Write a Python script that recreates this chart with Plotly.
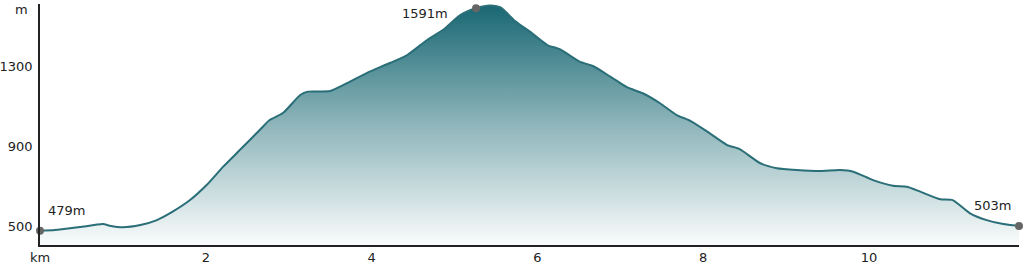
import plotly.graph_objects as go

# distance (km) and elevation (m) of the profile
km = [0.00, 0.18, 0.48, 0.76, 0.84, 1.00, 1.21, 1.41, 1.60, 1.81, 2.01, 2.21, 2.41,
      2.65, 2.77, 2.93, 3.14, 3.23, 3.50, 3.74, 3.94, 4.22, 4.43, 4.67, 4.86, 5.07,
      5.26, 5.43, 5.55, 5.63, 5.73, 5.91, 6.12, 6.27, 6.51, 6.67, 6.88, 7.08, 7.27, 7.48,
      7.68, 7.84, 8.05, 8.29, 8.44, 8.69, 8.89, 9.13, 9.41, 9.65, 9.81, 10.05, 10.29,
      10.46, 10.62, 10.86, 11.01, 11.22, 11.42, 11.62, 11.81]
elev = [479, 482, 497, 512, 504, 496, 507, 532, 574, 632, 707, 799, 882,
        982, 1032, 1067, 1157, 1174, 1177, 1224, 1267, 1317, 1357, 1432, 1482, 1557,
        1591, 1605, 1596, 1568, 1527, 1474, 1407, 1386, 1324, 1302, 1249, 1196, 1166, 1116,
        1057, 1029, 974, 907, 887, 816, 791, 782, 777, 782, 774, 732, 704,
        699, 674, 636, 632, 566, 532, 512, 503]

# labelled points
mark_km = [0.00, 5.26, 11.81]
mark_elev = [479, 1591, 503]
mark_text = ["479m", "1591m", "503m"]

x_ticks = [0, 2, 4, 6, 8, 10]
x_ticktext = ["km", "2", "4", "6", "8", "10"]
y_ticks = [500, 900, 1300]

font = dict(family="DejaVu Sans", size=13, color="#222222")

fig = go.Figure()
fig.add_trace(go.Scatter(
    x=km, y=elev, mode="lines",
    line=dict(color="#2a6e78", width=2, shape="spline", smoothing=0.6),
    fill="tozeroy",
    fillgradient=dict(type="vertical",
                      colorscale=[[0, "rgba(250,252,252,1)"], [0.5, "#8fb6bb"], [1, "#1a6874"]],
                      start=407, stop=1600),
    hoverinfo="skip", showlegend=False,
))
fig.add_trace(go.Scatter(
    x=mark_km, y=mark_elev, mode="markers",
    marker=dict(color="#666666", size=8),
    cliponaxis=False, showlegend=False, hoverinfo="skip",
))

shifts = [(6, 20, "left"), (-26, -5, "right"), (-6, 20, "right")]
for xv, yv, t, (dx, dy, anc) in zip(mark_km, mark_elev, mark_text, shifts):
    fig.add_annotation(x=xv, y=yv, text=t, showarrow=False, xanchor=anc,
                       xshift=dx, yshift=dy, font=font)

fig.add_annotation(xref="paper", yref="paper", x=-0.0194, y=1.0166, text="m",
                   showarrow=False, xanchor="center", yanchor="top", font=font)

fig.update_layout(
    width=1024, height=264,
    margin=dict(l=40, r=5, t=4, b=19),
    paper_bgcolor="white", plot_bgcolor="white",
    font=font,
    xaxis=dict(range=[0, 11.81], tickvals=x_ticks, ticktext=x_ticktext,
               showgrid=False, zeroline=False, showline=True, linecolor="#222222",
               linewidth=1.5, ticks="", automargin=False),
    yaxis=dict(range=[407.5, 1612], tickvals=y_ticks, showgrid=False, zeroline=False,
               showline=True, linecolor="#222222", linewidth=1.5, ticks="",
               ticklabelstandoff=3, automargin=False),
)

fig.write_html("out.html")
